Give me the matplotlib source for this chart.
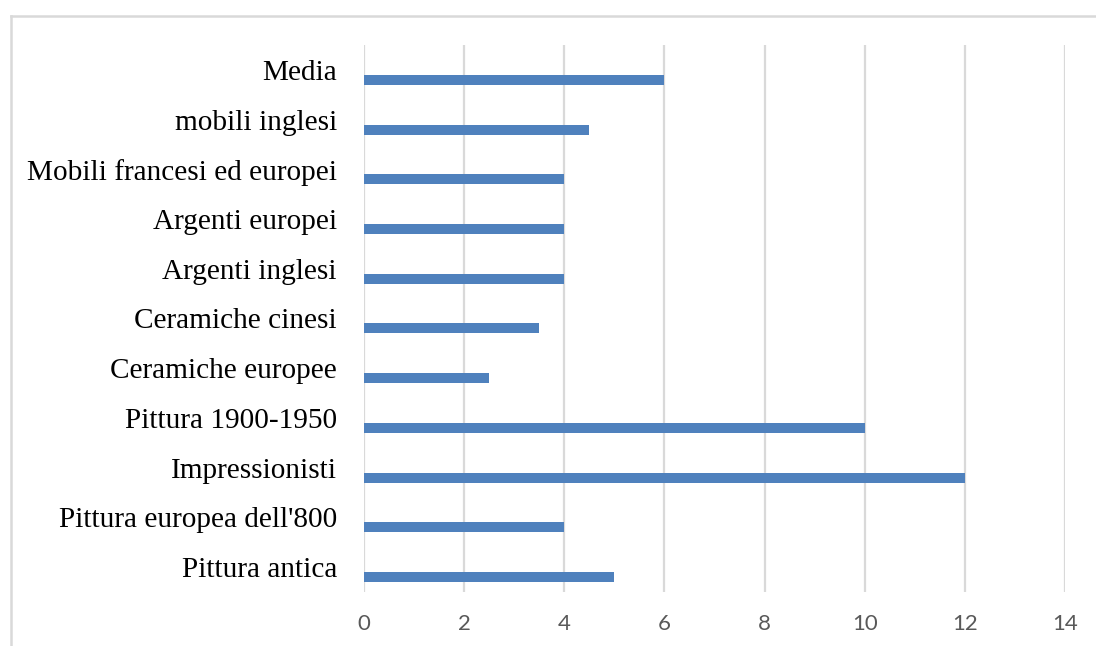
import matplotlib.pyplot as plt
from matplotlib.lines import Line2D

# categories listed bottom to top
categories = [
    "Pittura antica",
    "Pittura europea dell'800",
    "Impressionisti",
    "Pittura 1900-1950",
    "Ceramiche europee",
    "Ceramiche cinesi",
    "Argenti inglesi",
    "Argenti europei",
    "Mobili francesi ed europei",
    "mobili inglesi",
    "Media",
]
values = [5, 4, 12, 10, 2.5, 3.5, 4, 4, 4, 4.5, 6]
x_ticks = [0, 2, 4, 6, 8, 10, 12, 14]

BAR_COLOR = "#4F81BD"
GRID_COLOR = "#D9D9D9"

fig = plt.figure(figsize=(10.96, 6.46), dpi=100)
ax = fig.add_axes([364 / 1096, 1 - 592 / 646, (1065 - 364) / 1096, (592 - 45) / 646])

pos = list(range(len(categories)))
ax.barh([p - 0.2 for p in pos], values, height=0.2, color=BAR_COLOR, zorder=3)

ax.set_xlim(0, 14)
ax.set_ylim(-0.5, len(categories) - 0.5)
ax.set_xticks(x_ticks)
ax.set_xticklabels([str(t) for t in x_ticks], fontfamily="Lato", fontsize=16, color="#595959")
ax.set_yticks(pos)
ax.set_yticklabels(categories, fontfamily="Liberation Serif", fontsize=21.1, color="black")
ax.tick_params(axis="x", length=0, pad=16)
ax.tick_params(axis="y", length=0, pad=19.5)

ax.grid(axis="x", color=GRID_COLOR, linewidth=1.6, zorder=0)
for s in ax.spines.values():
    s.set_visible(False)

# chart frame (top and left edges)
fx, fy = 11 / 1096, 1 - 16 / 646
fig.add_artist(Line2D([fx, 1.01], [fy, fy], transform=fig.transFigure, color=GRID_COLOR, linewidth=1.8))
fig.add_artist(Line2D([fx, fx], [fy, -0.01], transform=fig.transFigure, color=GRID_COLOR, linewidth=1.8))

fig.savefig("out.png", dpi=100)
